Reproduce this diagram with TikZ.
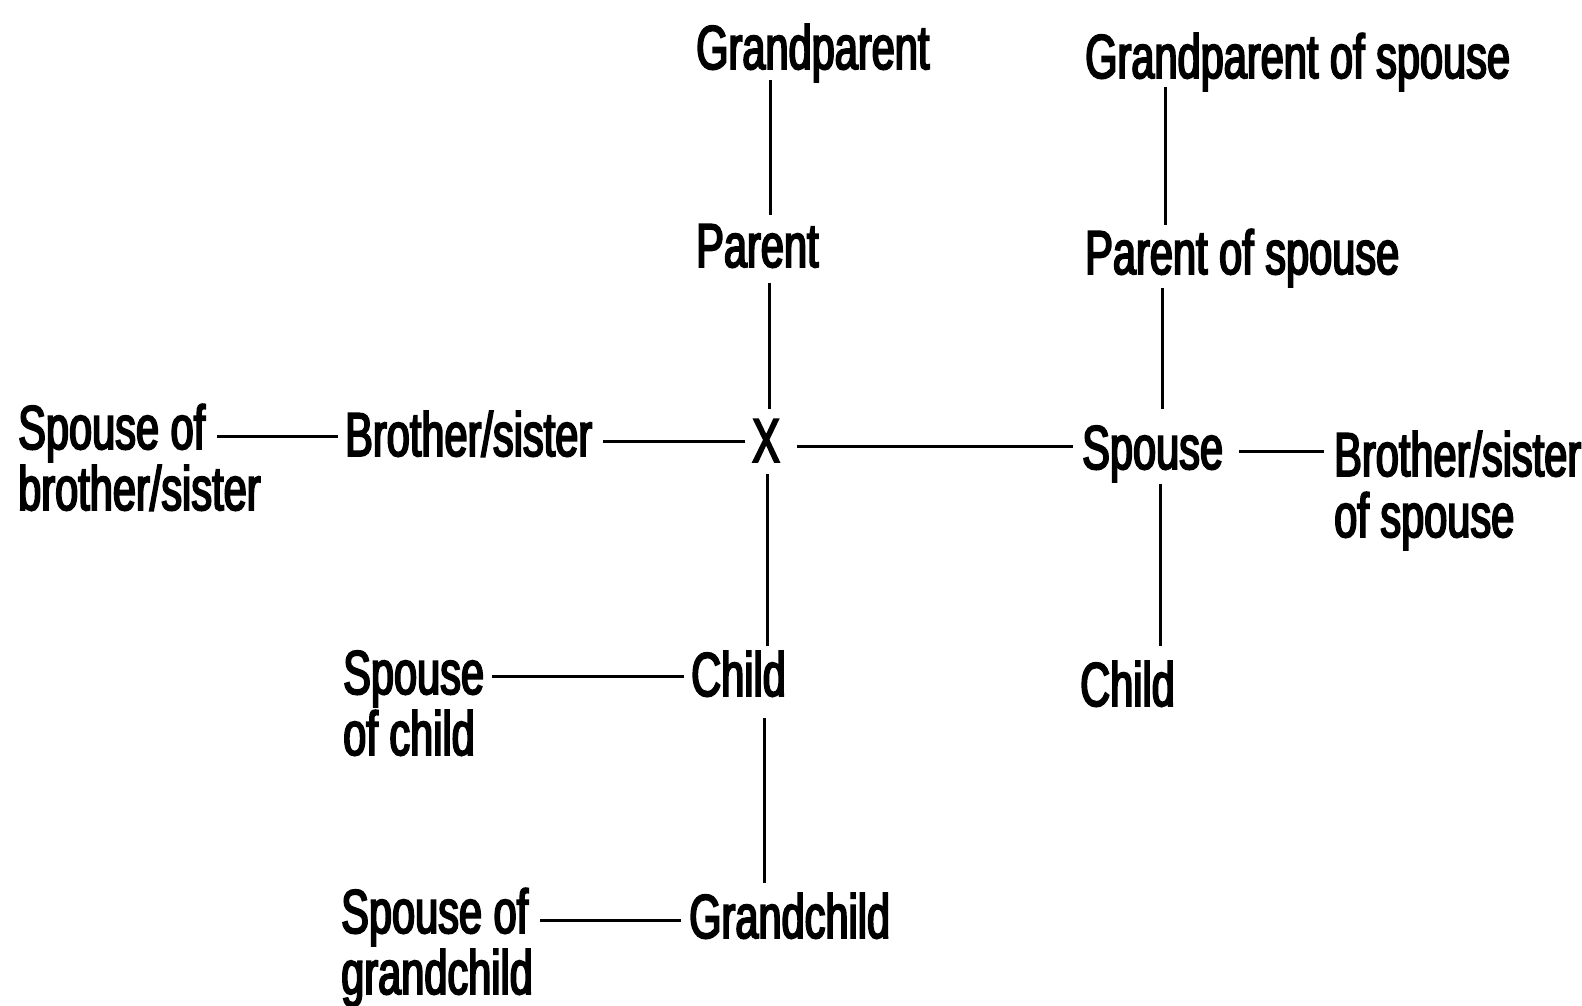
\documentclass[tikz,border=0pt]{standalone}
\usepackage{fontspec}
\setmainfont{Liberation Sans}[FakeStretch=0.67,FakeBold=3]
\begin{document}
\begin{tikzpicture}[x=1pt,y=-1pt,
  lab/.style={inner sep=0pt, anchor=base west, align=left, font=\fontsize{62}{61}\selectfont},
  conn/.style={line width=3pt}]
\useasboundingbox (0,0) rectangle (1582,1005);
\node[lab] (gp)   at (696,69)   {Grandparent};
\node[lab] (par)  at (696,267)  {Parent};
\node[lab] (gps)  at (1085,78)  {Grandparent of spouse};
\node[lab] (pars) at (1085,274) {Parent of spouse};
\node[lab] (sob)  at (18,510)   {Spouse of\\brother/sister};
\node[lab] (bs)   at (345,456)  {Brother/sister};
\node[lab] (x)    at (752,462)  {X};
\node[lab] (sp)   at (1082,469) {Spouse};
\node[lab] (bss)  at (1334,537) {Brother/sister\\of spouse};
\node[lab] (soc)  at (343,755)  {Spouse\\of child};
\node[lab] (ch)   at (691,696)  {Child};
\node[lab] (chs)  at (1080,706) {Child};
\node[lab] (sog)  at (341,994)  {Spouse of\\grandchild};
\node[lab] (gc)   at (689,938)  {Grandchild};
% vertical connectors
\draw[conn] ([shift={(74,11)}]gp.base west) -- ([shift={(74,-52)}]par.base west);
\draw[conn] ([shift={(73,16)}]par.base west) -- ([shift={(17,-53)}]x.base west);
\draw[conn] ([shift={(15,12)}]x.base west) -- ([shift={(76,-50)}]ch.base west);
\draw[conn] ([shift={(73,22)}]ch.base west) -- ([shift={(75,-55)}]gc.base west);
\draw[conn] ([shift={(80,9)}]gps.base west) -- ([shift={(80,-49)}]pars.base west);
\draw[conn] ([shift={(77,14)}]pars.base west) -- ([shift={(80,-60)}]sp.base west);
\draw[conn] ([shift={(78,15)}]sp.base west) -- ([shift={(80,-60)}]chs.base west);
% horizontal connectors
\draw[conn] ([shift={(199,-74)}]sob.base west) -- ([shift={(-7,-20)}]bs.base west);
\draw[conn] ([shift={(258,-15)}]bs.base west) -- ([shift={(-7,-21)}]x.base west);
\draw[conn] ([shift={(45,-16)}]x.base west) -- ([shift={(-9,-23)}]sp.base west);
\draw[conn] ([shift={(157,-18)}]sp.base west) -- ([shift={(-10,-86)}]bss.base west);
\draw[conn] ([shift={(149,-79)}]soc.base west) -- ([shift={(-7,-20)}]ch.base west);
\draw[conn] ([shift={(199,-74)}]sog.base west) -- ([shift={(-8,-18)}]gc.base west);
\end{tikzpicture}
\end{document}
